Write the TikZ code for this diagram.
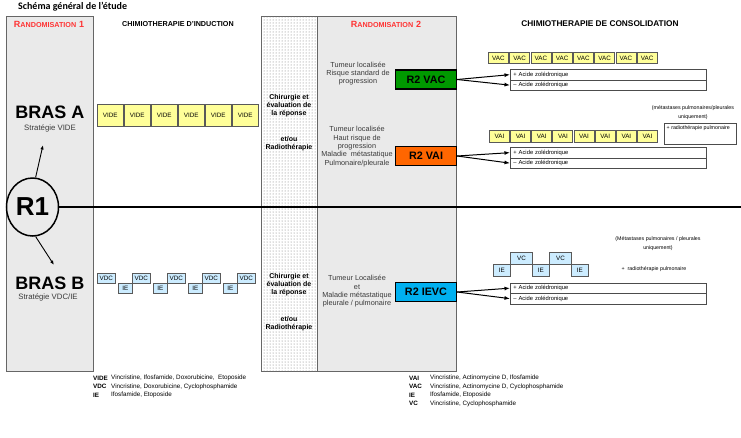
\documentclass[tikz,border=0pt]{standalone}
\usepackage{fontspec}
\setmainfont{Liberation Sans}
\newfontfamily\titlefont{Carlito}
\usetikzlibrary{arrows.meta,shapes.geometric,patterns}
\definecolor{colgray}{HTML}{EAEAEA}
\definecolor{videyellow}{HTML}{FFFF99}
\definecolor{vdcblue}{HTML}{CCECFF}
\definecolor{randred}{HTML}{FF3333}
\definecolor{vacgreen}{HTML}{009900}
\definecolor{vaiorange}{HTML}{FF6600}
\definecolor{ievcblue}{HTML}{00B0F0}
\definecolor{txtgray}{HTML}{3A3A3A}
\newcommand{\randhead}[1]{{\fontsize{9}{10}\selectfont R}{\fontsize{7.2}{10}\selectfont ANDOMISATION} {\fontsize{9}{10}\selectfont #1}}

\begin{document}
\begin{tikzpicture}[x=1pt,y=-1pt,
    colframe/.style={draw=black!60,line width=0.8pt},
    head/.style={inner sep=0pt,font=\bfseries},
    bras/.style={inner sep=0pt,font=\bfseries\fontsize{18}{18}\selectfont},
    strat/.style={inner sep=0pt,text=txtgray,font=\fontsize{7.8}{8}\selectfont},
    cell/.style={draw=black!65,line width=0.9pt,inner sep=0pt,anchor=north west,font=\fontsize{6.3}{7}\selectfont},
    videcell/.style={cell,fill=videyellow,minimum width=25.5,minimum height=22},
    vdccell/.style={cell,fill=vdcblue,minimum width=17.5,minimum height=10},
    vaccell/.style={cell,fill=videyellow,minimum width=20,minimum height=11},
    chir/.style={align=center,inner sep=0pt,font=\bfseries\fontsize{7}{8}\selectfont},
    tumeur/.style={align=center,inner sep=0pt,text=txtgray,font=\fontsize{7.3}{8.3}\selectfont},
    r2box/.style={draw=black,line width=1.2pt,minimum width=61,minimum height=19,inner sep=0pt,font=\bfseries\fontsize{10.8}{11}\selectfont},
    acide/.style={draw=black!70,line width=0.8pt,anchor=north west,minimum height=10.5,text width=190,inner xsep=3pt,inner ysep=0pt,align=left,font=\fontsize{5.8}{6}\selectfont},
    meta/.style={align=center,inner sep=0pt,font=\fontsize{5.3}{9}\selectfont},
    leg/.style={anchor=west,inner sep=0pt,font=\fontsize{6.3}{7}\selectfont},
    arr/.style={-{Latex[length=5.5pt,width=4pt]},line width=1pt},
    arrsmall/.style={-{Latex[length=4.5pt,width=3.4pt]},line width=0.9pt}]
\useasboundingbox (0,0) rectangle (741,437);
\node[anchor=west,inner sep=0pt,font=\titlefont\bfseries\fontsize{10}{11}\selectfont] (title) at (18,6.5) {Schéma général de l’étude};

\draw[colframe,fill=colgray] (6,16) rectangle (93,371);
\draw[colframe,fill=white,postaction={pattern=dots,pattern color=black!55}] (261,16) rectangle (317,371);
\draw[colframe,fill=colgray] (317,16) rectangle (456,371);

\node[head,text=randred] (rand1) at (49,24) {\randhead{1}};
\node[head,font=\bfseries\fontsize{7.2}{8}\selectfont] (induc) at (178,24) {CHIMIOTHERAPIE D’INDUCTION};
\node[head,text=randred] (rand2) at (386,24) {\randhead{2}};
\node[head,font=\bfseries\fontsize{8.3}{9}\selectfont] (conso) at (600,24) {CHIMIOTHERAPIE DE CONSOLIDATION};

\node[draw,ellipse,line width=1.5pt,minimum width=52,minimum height=58,inner sep=0pt,font=\bfseries\fontsize{26}{26}\selectfont] (R1) at (32.5,207) {R1};
\node[bras] (brasA) at (50,112.5) {BRAS A};
\node[strat] (stratA) at (50,128) {Stratégie VIDE};
\node[bras] (brasB) at (50,283) {BRAS B};
\node[strat] (stratB) at (48,297) {Stratégie VDC/IE};
\coordinate (tipA) at (43,145);
\coordinate (tipB) at (54,265);
\coordinate (lineend) at (741,207);
\draw[arrsmall] (R1.84) -- (tipA);
\draw[arrsmall] (R1.-84) -- (tipB);
\draw[line width=1.6pt] (R1.east) -- (lineend);

\foreach \i in {0,...,5}
    \node[videcell] (vide\i) at (97+27*\i,104) {VIDE};
\foreach \i in {0,...,4}
    \node[vdccell] (vdc\i) at (97+35*\i,273) {VDC};
\foreach \i in {0,...,3}
    \node[vdccell,minimum width=14] (ie\i) at (118+35*\i,283) {IE};

\node[chir] (chirA) at (289,106) {Chirurgie et\\évaluation de\\la réponse};
\node[chir] (etouA) at (289,143.5) {et/ou\\Radiothérapie};
\node[chir] (chirB) at (289,285) {Chirurgie et\\évaluation de\\la réponse};
\node[chir] (etouB) at (289,323.5) {et/ou\\Radiothérapie};

\node[tumeur] (tumA) at (358,73.5) {Tumeur localisée\\Risque standard de\\progression};
\node[tumeur] (tumB) at (357,146.5) {Tumeur localisée\\Haut risque de\\progression\\Maladie~ métastatique\\Pulmonaire/pleurale};
\node[tumeur] (tumC) at (357,291.5) {Tumeur Localisée\\et\\Maladie métastatique\\pleurale / pulmonaire};

\node[r2box,fill=vacgreen] (r2vac) at (426,79.5) {R2 VAC};
\node[r2box,fill=vaiorange] (r2vai) at (426,156) {R2 VAI};
\node[r2box,fill=ievcblue] (r2ievc) at (426,292) {R2 IEVC};

\foreach \nm/\y in {vac/69,vai/147,ievc/282.5}{
    \node[acide] (\nm P) at (510,\y) {+ Acide zolédronique};
    \node[acide] (\nm M) at (510,\y+10.5) {– Acide zolédronique};
    \draw[arr] (r2\nm.east) -- (\nm P.west);
    \draw[arr] (r2\nm.east) -- (\nm M.west);
}

\foreach \i in {0,...,7}
    \node[vaccell] (vac\i) at (488+21.25*\i,52) {VAC};
\foreach \i in {0,...,7}
    \node[vaccell,minimum height=12] (vai\i) at (489+21.15*\i,130) {VAI};
\foreach \i in {0,1,2}
    \node[vdccell,minimum width=17,minimum height=12] (ieC\i) at (493+39*\i,264) {IE};
\foreach \i in {0,1}
    \node[vdccell,minimum width=22,minimum height=12] (vc\i) at (510+39*\i,252) {VC};

\node[draw=black!70,line width=0.8pt,anchor=north west,minimum width=72,minimum height=21,inner sep=0pt] (radioB) at (664,123) {};
\node[meta,anchor=north west,inner sep=2.5pt] (radioT) at (radioB.north west) {+ radiothérapie pulmonaire};
\node[meta] (metaB) at (693,112.5) {(métastases pulmonaires/pleurales\\uniquement)};
\node[meta] (metaC) at (658,243.5) {(Métastases pulmonaires / pleurales\\uniquement)};
\node[meta] (radioC) at (654,269) {+~ radiothérapie pulmonaire};

\foreach \ab/\desc [count=\k from 0] in {VIDE/{Vincristine, Ifosfamide, Doxorubicine,~ Etoposide},VDC/{Vincristine, Doxorubicine, Cyclophosphamide},IE/{Ifosfamide, Etoposide}}{
    \node[leg,font=\bfseries\fontsize{6.3}{7}\selectfont] (legA\k) at (93,378+8.5*\k) {\ab};
    \node[leg] (legAd\k) at (111,378+8.5*\k) {\desc};
}
\foreach \ab/\desc [count=\k from 0] in {VAI/{Vincristine, Actinomycine D, Ifosfamide},VAC/{Vincristine, Actinomycine D, Cyclophosphamide},IE/{Ifosfamide, Etoposide},VC/{Vincristine, Cyclophosphamide}}{
    \node[leg,font=\bfseries\fontsize{6.3}{7}\selectfont] (legB\k) at (409,378+8.5*\k) {\ab};
    \node[leg] (legBd\k) at (430,378+8.5*\k) {\desc};
}
\end{tikzpicture}
\end{document}
